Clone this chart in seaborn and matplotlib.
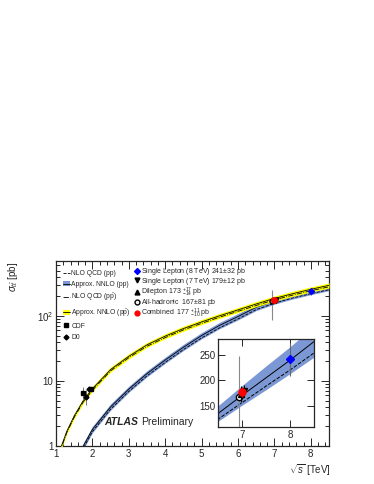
import numpy as np
import pandas as pd
import seaborn as sns
import matplotlib.pyplot as plt
from matplotlib.lines import Line2D
from matplotlib.patches import Patch
from matplotlib.ticker import FixedLocator, MultipleLocator, NullFormatter, FixedFormatter, LogLocator

# Theory curves
sqrt_s_pp = [1.6, 1.75, 2.0, 2.5, 3.0, 3.5, 4.0, 4.5, 5.0, 5.5, 6.0, 6.5, 7.0, 7.5, 8.0, 8.5]
nnlo_pp = [0.68, 1.0, 1.8, 4.0, 7.5, 13.0, 21, 33, 50, 72, 98, 136, 171, 205, 239, 275]
nnlo_pp_lo = [0.61, 0.89, 1.6, 3.56, 6.7, 11.6, 18.7, 29.4, 44.5, 64, 87, 121, 152, 182, 213, 245]
nnlo_pp_hi = [0.75, 1.11, 2.0, 4.44, 8.3, 14.4, 23.3, 36.6, 55.5, 80, 109, 151, 190, 228, 265, 305]
nlo_pp = [0.63, 0.92, 1.66, 3.68, 6.9, 12.0, 19.3, 30.4, 46, 66, 90, 125, 157, 189, 220, 253]

sqrt_s_ppbar = [1.0, 1.15, 1.3, 1.5, 1.75, 2.0, 2.5, 3.0, 3.5, 4.0, 4.5, 5.0, 5.5, 6.0, 6.5, 7.0, 7.5, 8.0, 8.5]
nnlo_ppbar = [0.45, 1.0, 1.7, 2.9, 5.0, 7.6, 15, 24, 36, 49, 64, 81, 101, 124, 153, 186, 220, 257, 296]
nnlo_ppbar_lo = [0.41, 0.91, 1.55, 2.64, 4.55, 6.92, 13.7, 21.8, 32.8, 44.6, 58.2, 73.7, 91.9, 113, 139, 169, 200, 234, 269]
nnlo_ppbar_hi = [0.49, 1.09, 1.85, 3.16, 5.45, 8.28, 16.4, 26.2, 39.2, 53.4, 69.8, 88.3, 110, 135, 167, 203, 240, 280, 323]
nlo_ppbar = [0.43, 0.95, 1.62, 2.76, 4.75, 7.2, 14.3, 22.8, 34.2, 46.5, 61, 77, 96, 118, 145, 177, 209, 244, 281]

# Measurements
cdf_x = [1.75, 1.96]
cdf_y = [6.5, 7.5]
cdf_err_lo = [1.4, 0.5]
cdf_err_hi = [1.7, 0.5]
d0_x = [1.82, 1.90]
d0_y = [5.7, 7.6]
d0_err_lo = [1.5, 0.6]
d0_err_hi = [1.6, 0.6]

sl8_x, sl8_y, sl8_err = 8.0, 241, 32
sl7_x, sl7_y, sl7_err = 7.04, 179, 12
dil_x, dil_y, dil_lo, dil_hi = 6.98, 173, 14, 17
had_x, had_y, had_err = 6.93, 167, 81
comb_x, comb_y, comb_lo, comb_hi = 7.0, 177, 10, 11

BLUE_BAND = '#7b98d4'
YELLOW = '#ffff00'

sns.set_style("ticks")
plt.rcParams['font.family'] = ['Liberation Sans', 'DejaVu Sans']
plt.rcParams['mathtext.fontset'] = 'custom'
plt.rcParams['mathtext.rm'] = 'Liberation Sans'
plt.rcParams['mathtext.it'] = 'Liberation Sans:italic'
plt.rcParams['mathtext.bf'] = 'Liberation Sans:bold'

df_pp = pd.DataFrame({'sqrt_s': sqrt_s_pp, 'nnlo': nnlo_pp, 'nlo': nlo_pp})
df_ppbar = pd.DataFrame({'sqrt_s': sqrt_s_ppbar, 'nnlo': nnlo_ppbar, 'nlo': nlo_ppbar})


def draw_pp(ax, lw):
    ax.fill_between(sqrt_s_pp, nnlo_pp_lo, nnlo_pp_hi, color=BLUE_BAND, lw=0, zorder=1)
    sns.lineplot(data=df_pp, x='sqrt_s', y='nnlo', color='k', lw=lw, ax=ax, zorder=2)
    sns.lineplot(data=df_pp, x='sqrt_s', y='nlo', color='k', lw=lw, ls='--', ax=ax, zorder=2)


def draw_lhc_points(ax, ms):
    ax.errorbar(had_x, had_y, yerr=had_err, fmt='o', mfc='white', mec='k', ms=ms,
                ecolor='#888888', elinewidth=0.8, zorder=5)
    ax.errorbar(dil_x, dil_y, yerr=[[dil_lo], [dil_hi]], fmt='^', color='k', ms=ms,
                elinewidth=0.8, zorder=6)
    ax.errorbar(sl7_x, sl7_y, yerr=sl7_err, fmt='v', color='k', ms=ms,
                elinewidth=0.8, zorder=6)
    ax.errorbar(comb_x, comb_y, yerr=[[comb_lo], [comb_hi]], fmt='o', color='red', ms=ms + 0.5,
                elinewidth=0.8, zorder=7)
    ax.errorbar(sl8_x, sl8_y, yerr=sl8_err, fmt='D', color='blue', ms=ms - 0.5,
                ecolor='#666666', elinewidth=0.8, zorder=7)


fig = plt.figure(figsize=(3.74, 4.84), dpi=100)
ax = fig.add_axes([0.1497, 0.0785, 0.730, 0.3822])

draw_pp(ax, 0.6)
ax.fill_between(sqrt_s_ppbar, nnlo_ppbar_lo, nnlo_ppbar_hi, color=YELLOW, lw=0, zorder=3)
sns.lineplot(data=df_ppbar, x='sqrt_s', y='nnlo', color='k', lw=0.6, ax=ax, zorder=4)
sns.lineplot(data=df_ppbar, x='sqrt_s', y='nlo', color='k', lw=0.6, ls='-.', ax=ax, zorder=4)

ax.errorbar(cdf_x, cdf_y, yerr=[cdf_err_lo, cdf_err_hi], fmt='s', color='k', ms=3,
            ecolor='#777777', elinewidth=0.7, zorder=6)
ax.errorbar(d0_x, d0_y, yerr=[d0_err_lo, d0_err_hi], fmt='D', color='k', ms=2.5,
            ecolor='#777777', elinewidth=0.7, zorder=6)
draw_lhc_points(ax, 3.5)

ax.set_yscale('log')
ax.set_xlim(1, 8.5)
ax.set_ylim(1, 700)
ax.set_xlabel('')
ax.set_ylabel('')
ax.xaxis.set_major_locator(MultipleLocator(1))
ax.xaxis.set_minor_locator(MultipleLocator(0.2))
ax.yaxis.set_major_locator(FixedLocator([1, 10, 100]))
ax.yaxis.set_major_formatter(FixedFormatter(['1', '10', '$10^2$']))
ax.yaxis.set_minor_locator(LogLocator(base=10, subs=np.arange(2, 10)))
ax.yaxis.set_minor_formatter(NullFormatter())
ax.tick_params(which='both', direction='in', top=True, right=True, labelsize=7, width=0.7, pad=2)
ax.tick_params(which='major', length=6)
ax.tick_params(which='minor', length=3)
for s in ax.spines.values():
    s.set_linewidth(0.9)

fig.text(12.7 / 374, 1 - 262 / 484, r'$\sigma_{t\bar{t}}$ [pb]', rotation=90, ha='center', va='top', fontsize=7)
fig.text(331 / 374, 1 - 470 / 484, r'$\sqrt{s}$ [TeV]', ha='right', va='center', fontsize=7)

ax.text(0.176, 0.13, 'ATLAS', transform=ax.transAxes, fontsize=7.5, fontweight='bold',
        style='italic', va='center')
ax.text(0.313, 0.13, 'Preliminary', transform=ax.transAxes, fontsize=7.5, va='center')

# Legends
left_handles = [
    Line2D([], [], color='k', ls='--', lw=0.6),
    (Patch(color=BLUE_BAND, lw=0), Line2D([], [], color='k', lw=0.6)),
    Line2D([], [], color='k', ls='-.', lw=0.6),
    (Patch(color=YELLOW, lw=0), Line2D([], [], color='k', lw=0.6)),
    Line2D([], [], color='k', marker='s', ls='none', ms=3),
    Line2D([], [], color='k', marker='D', ls='none', ms=2.5),
]
left_labels = ['NLO QCD (pp)', 'Approx. NNLO (pp)', r'NLO QCD (p$\bar{\rm p}$)',
               r'Approx. NNLO (p$\bar{\rm p}$)', 'CDF', 'D0']
leg1 = ax.legend(left_handles, left_labels, loc='upper left', bbox_to_anchor=(0.026, 0.952),
                 frameon=False, fontsize=4.9, handlelength=1.0, handletextpad=0.2,
                 labelspacing=0.6, borderpad=0, borderaxespad=0)
ax.add_artist(leg1)

right_handles = [
    Line2D([], [], color='blue', marker='D', ls='none', ms=3),
    Line2D([], [], color='k', marker='v', ls='none', ms=3.5),
    Line2D([], [], color='k', marker='^', ls='none', ms=3.5),
    Line2D([], [], mfc='white', mec='k', marker='o', ls='none', ms=3.5),
    Line2D([], [], color='red', marker='o', ls='none', ms=3.5),
]
right_labels = [r'Single Lepton (8 TeV) 241$\pm$32 pb', r'Single Lepton (7 TeV) 179$\pm$12 pb',
                r'Dilepton 173 $^{+17}_{-14}$ pb', r'All-hadronic  167$\pm$81 pb',
                r'Combined  177 $^{+11}_{-10}$ pb']
ax.legend(right_handles, right_labels, loc='upper left', bbox_to_anchor=(0.285, 0.972),
          frameon=False, fontsize=5.0, handlelength=0.8, handletextpad=0.3,
          labelspacing=-0.2, borderpad=0, borderaxespad=0)

# Inset
axin = fig.add_axes([0.5829, 0.1178, 0.2567, 0.1818])
draw_pp(axin, 0.7)
draw_lhc_points(axin, 4.5)
axin.set_xlim(6.5, 8.5)
axin.set_ylim(110, 280)
axin.set_xlabel('')
axin.set_ylabel('')
axin.xaxis.set_major_locator(FixedLocator([7, 8]))
axin.xaxis.set_minor_locator(MultipleLocator(0.1))
axin.yaxis.set_major_locator(FixedLocator([150, 200, 250]))
axin.yaxis.set_minor_locator(MultipleLocator(10))
axin.tick_params(which='both', direction='in', top=True, right=True, labelsize=7, width=0.7, pad=2)
axin.tick_params(which='major', length=5)
axin.tick_params(which='minor', length=0)
for s in axin.spines.values():
    s.set_linewidth(0.9)

fig.savefig('out.png', dpi=100, facecolor='white')
